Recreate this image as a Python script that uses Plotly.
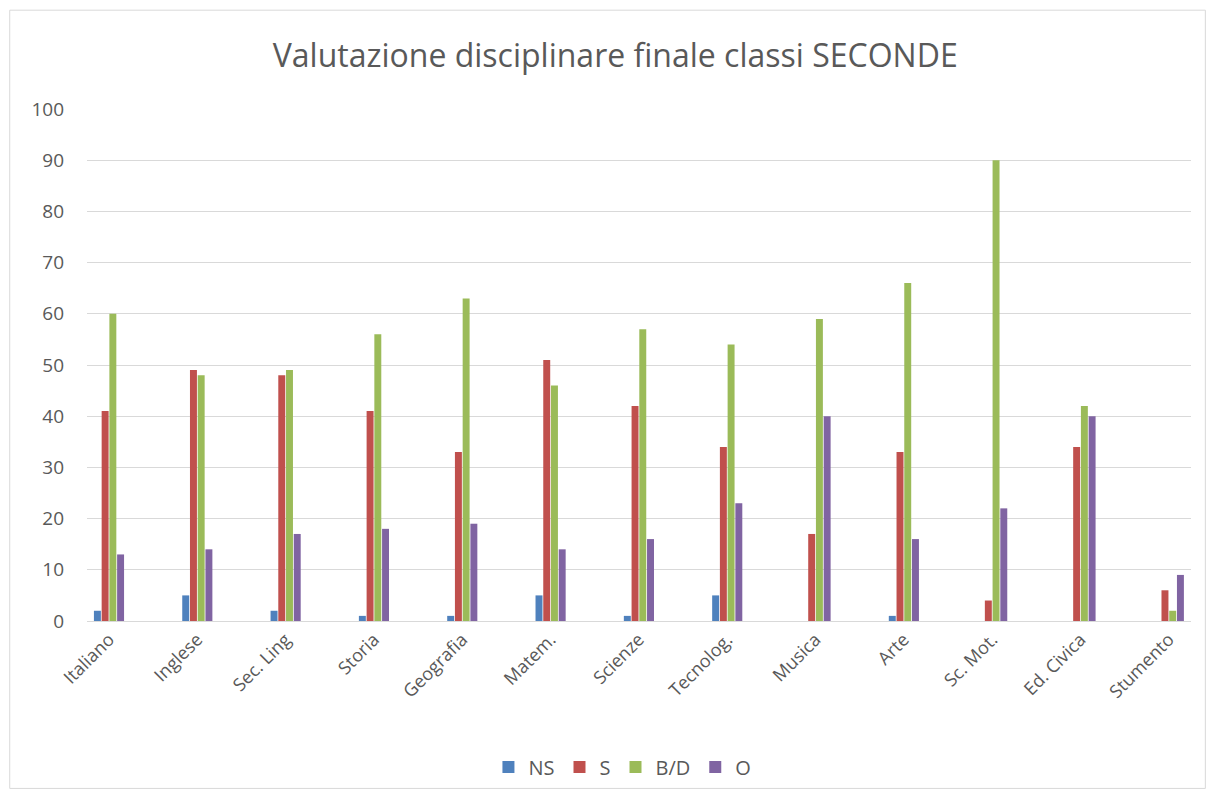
import plotly.graph_objects as go

materie = ["Italiano", "Inglese", "Sec. Ling", "Storia", "Geografia", "Matem.", "Scienze",
           "Tecnolog.", "Musica", "Arte", "Sc. Mot.", "Ed. Civica", "Stumento"]
ns = [2, 5, 2, 1, 1, 5, 1, 5, 0, 1, 0, 0, 0]
s = [41, 49, 48, 41, 33, 51, 42, 34, 17, 33, 4, 34, 6]
bd = [60, 48, 49, 56, 63, 46, 57, 54, 59, 66, 90, 42, 2]
o = [13, 14, 17, 18, 19, 14, 16, 23, 40, 16, 22, 40, 9]

series = [("NS", ns, "#4F81BD"), ("S", s, "#C0504D"), ("B/D", bd, "#9BBB59"), ("O", o, "#8064A2")]

fig = go.Figure()
for name, values, color in series:
    fig.add_trace(go.Bar(x=materie, y=values, name=name, marker=dict(color=color, line=dict(width=0))))

font_family = "Open Sans, Noto Sans, sans-serif"
fig.update_layout(
    width=1211,
    height=798,
    paper_bgcolor="white",
    plot_bgcolor="white",
    font=dict(family=font_family, color="#595959", size=18),
    title=dict(text="Valutazione disciplinare finale classi SECONDE", x=0.508, xanchor="center",
               y=0.93, yanchor="middle", font=dict(size=32, color="#595959")),
    barmode="group",
    bargap=0.65,
    bargroupgap=0.1,
    margin=dict(l=87, r=20, t=109, b=173),
    legend=dict(orientation="h", x=0.485, xanchor="center", y=-0.285, yanchor="middle",
                font=dict(size=20, color="#595959"), traceorder="normal", itemwidth=30),
    showlegend=True,
)
fig.update_yaxes(range=[0, 100], dtick=10, showgrid=True, gridcolor="#d9d9d9", gridwidth=1,
                 zeroline=False, showline=False, ticks="", tickfont=dict(size=19),
                 automargin=False, ticklabelstandoff=22)
fig.update_xaxes(range=[-0.249, 12.251], tickangle=-45, showline=True, linecolor="#d9d9d9",
                 linewidth=1, ticks="", tickfont=dict(size=18), automargin=False)
fig.add_shape(type="rect", xref="paper", yref="paper", x0=-0.07, x1=1.013, y0=-0.327, y1=1.193,
              line=dict(color="#d9d9d9", width=1), fillcolor="rgba(0,0,0,0)", layer="below")

fig.write_html("out.html", config={"displayModeBar": False},
               post_script="document.body.style.margin='0';")
